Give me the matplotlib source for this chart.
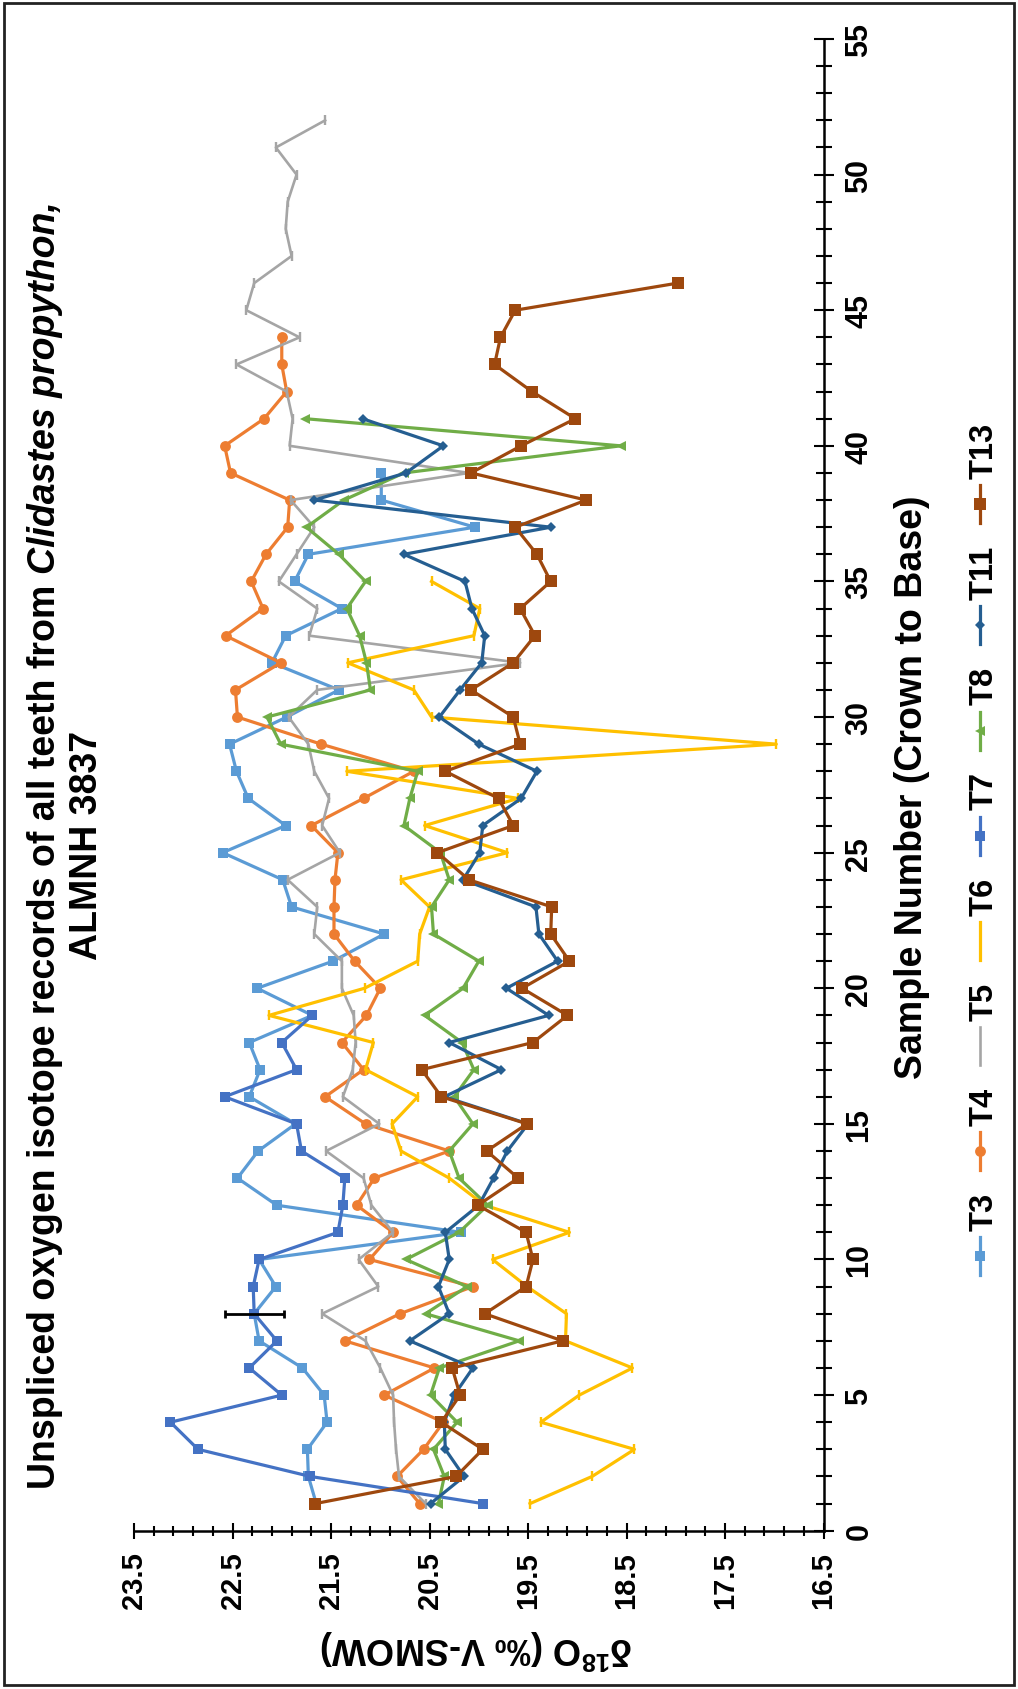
import matplotlib
matplotlib.use("Agg")
import matplotlib.pyplot as plt
import numpy as np
from matplotlib.ticker import FixedLocator, MultipleLocator, FormatStrFormatter
from matplotlib.lines import Line2D
from matplotlib.patches import Rectangle

plt.rcParams['font.family'] = ['Liberation Sans', 'DejaVu Sans']
plt.rcParams['font.weight'] = 'bold'
plt.rcParams['mathtext.fontset'] = 'custom'
plt.rcParams['mathtext.rm'] = 'Liberation Sans:bold'
plt.rcParams['mathtext.bf'] = 'Liberation Sans:bold'
plt.rcParams['mathtext.default'] = 'bf'

# d18O values per sample (sample 1, 2, 3, ...)
T3 = [21.65, 21.73, 21.74, 21.54, 21.57, 21.79, 22.23, 22.28, 22.06, 22.23,
      20.18, 22.05, 22.45, 22.24, 21.86, 22.33, 22.22, 22.33, 21.69, 22.25,
      21.48, 20.96, 21.90, 21.99, 22.60, 21.96, 22.34, 22.46, 22.53, 21.95,
      21.42, 22.10, 21.96, 21.39, 21.87, 21.73, 20.04, 20.99, 20.99]
T4 = [20.60, 20.83, 20.56, 20.36, 20.96, 20.45, 21.36, 20.80, 20.06, 21.11,
      20.87, 21.24, 21.06, 20.30, 21.15, 21.56, 21.17, 21.39, 21.14, 21.00,
      21.26, 21.47, 21.47, 21.46, 21.43, 21.70, 21.17, 20.66, 21.60, 22.45,
      22.47, 22.01, 22.57, 22.19, 22.31, 22.16, 21.94, 21.92, 22.52, 22.58,
      22.18, 21.95, 22.00, 22.00]
T5 = [20.54, 20.81, 20.84, 20.86, 20.87, 21.00, 21.15, 21.59, 21.02, 21.22,
      20.87, 21.09, 21.17, 21.55, 21.01, 21.38, 21.28, 21.25, 21.27, 21.39,
      21.39, 21.67, 21.64, 21.94, 21.41, 21.59, 21.52, 21.67, 21.73, 21.93,
      21.64, 19.58, 21.72, 21.64, 22.03, 21.85, 21.67, 21.91, 20.10, 21.92,
      21.89, 21.95, 22.46, 21.82, 22.36, 22.28, 21.90, 21.96, 21.94, 21.85,
      22.06, 21.56]
T6 = [19.48, 18.85, 18.42, 19.37, 18.98, 18.44, 19.12, 19.11, 19.51, 19.86,
      19.08, 19.94, 20.30, 20.79, 20.88, 20.62, 21.15, 21.07, 22.13, 21.16,
      20.62, 20.60, 20.50, 20.79, 19.71, 20.55, 19.60, 21.34, 16.98, 20.48,
      20.66, 21.33, 20.05, 19.99, 20.48]
T7 = [19.96, 21.71, 22.85, 23.13, 22.00, 22.33, 22.05, 22.28, 22.29, 22.23,
      21.43, 21.38, 21.36, 21.80, 21.85, 22.58, 21.85, 22.00, 21.69]
T8 = [20.41, 20.35, 20.46, 20.22, 20.49, 20.40, 19.59, 20.54, 20.12, 20.74,
      20.20, 19.91, 20.20, 20.30, 20.06, 20.25, 20.05, 20.17, 20.55, 20.16,
      20.00, 20.46, 20.48, 20.30, 20.39, 20.76, 20.70, 20.62, 22.01, 22.15,
      21.10, 21.14, 21.21, 21.34, 21.15, 21.42, 21.75, 21.37, 20.76, 18.56,
      21.76]
T11 = [20.49, 20.15, 20.34, 20.35, 20.25, 20.06, 20.70, 20.30, 20.41, 20.30,
       20.34, 20.00, 19.85, 19.71, 19.50, 20.35, 19.77, 20.30, 19.29, 19.72,
       19.20, 19.39, 19.42, 20.16, 19.99, 19.96, 19.57, 19.41, 20.00, 20.40,
       20.19, 19.97, 19.94, 20.07, 20.14, 20.76, 19.27, 21.67, 20.74, 20.36,
       21.18]
T13 = [21.66, 20.23, 19.96, 20.38, 20.19, 20.27, 19.15, 19.94, 19.52, 19.45,
       19.52, 20.01, 19.60, 19.92, 19.51, 20.38, 20.58, 19.45, 19.10, 19.56,
       19.08, 19.27, 19.26, 20.10, 20.42, 19.65, 19.80, 20.34, 19.58, 19.65,
       20.08, 19.65, 19.43, 19.58, 19.27, 19.41, 19.63, 18.91, 20.08, 19.57,
       19.02, 19.46, 19.84, 19.78, 19.63, 17.98]

# analytical error bar
err_value = [22.28]
err_sample = [8]
err_size = [0.3]

names = ["T3", "T4", "T5", "T6", "T7", "T8", "T11", "T13"]
values = [T3, T4, T5, T6, T7, T8, T11, T13]
colors = ["#5B9BD5", "#ED7D31", "#A5A5A5", "#FFC000", "#4472C4", "#70AD47", "#255E91", "#9E480E"]
markers = ["s", "o", "|", "|", "s", "<", "D", "s"]
msizes = [7.2, 7.8, 6.5, 6.5, 7.6, 7.8, 5.6, 8.2]
lws = [2.3, 2.3, 1.9, 2.3, 2.3, 2.3, 2.3, 2.3]

W, H = 1018, 1690


def fx(px):
    return px / W


def fy(py):
    return 1 - py / H


fig = plt.figure(figsize=(W / 100, H / 100), dpi=100)
fig.add_artist(Rectangle((fx(4), fy(1686)), fx(1010), 1682 / H, transform=fig.transFigure,
                         fill=False, edgecolor="#222222", linewidth=2))

ax = fig.add_axes([fx(134), fy(1531.7), fx(823.6) - fx(134), 1491.7 / H])

for name, vals, c, m, ms, lw in zip(names, values, colors, markers, msizes, lws):
    samples = np.arange(1, len(vals) + 1)
    mew = 1.7 if m == "|" else 0
    ax.plot(vals, samples, color=c, lw=lw, marker=m, markersize=ms,
            markeredgewidth=mew, markeredgecolor=c, markerfacecolor=c)

ax.errorbar(err_value, err_sample, xerr=err_size, fmt="none", ecolor="black",
            elinewidth=2, capsize=3, capthick=2, zorder=5)

ax.set_xlim(23.5, 16.5)
ax.set_ylim(0, 55)
ax.spines["left"].set_visible(False)
ax.spines["top"].set_visible(False)
ax.spines["bottom"].set_linewidth(1.8)
ax.spines["right"].set_linewidth(1.8)

ax.xaxis.set_major_locator(FixedLocator(np.arange(16.5, 23.6, 1.0)))
ax.xaxis.set_minor_locator(FixedLocator(np.arange(16.5, 23.55, 0.2)))
ax.xaxis.set_major_formatter(FormatStrFormatter("%.1f"))
ax.tick_params(axis="x", which="major", direction="inout", length=12, width=1.5,
               labelsize=21, labelrotation=90, pad=9)
ax.tick_params(axis="x", which="minor", direction="inout", length=7, width=1.5)

ax.yaxis.tick_right()
ax.yaxis.set_major_locator(MultipleLocator(5))
ax.yaxis.set_minor_locator(MultipleLocator(1))
ax.tick_params(axis="y", which="major", direction="inout", length=14, width=1.5,
               labelsize=22, labelrotation=90, pad=8)
ax.tick_params(axis="y", which="minor", direction="inout", length=11, width=1.5)
for lab in ax.get_yticklabels():
    lab.set_verticalalignment("center")

# axis titles
fig.text(fx(477), fy(1637), r"δ$^{18}$O (‰ V-SMOW)", rotation=180, rotation_mode="anchor",
         ha="center", va="baseline", fontsize=26, weight="bold")
fig.text(fx(922), fy(787), "Sample Number (Crown to Base)", rotation=90, rotation_mode="anchor",
         ha="center", va="baseline", fontsize=27, weight="bold")

# title, rotated, with italic species name
r = fig.canvas.get_renderer()
ta = fig.text(0, 0, "Unspliced oxygen isotope records of all teeth from", rotation=90,
              rotation_mode="anchor", ha="left", va="baseline", fontsize=27, weight="bold")
tb = fig.text(0, 0, "Clidastes propython,", rotation=90, rotation_mode="anchor",
              ha="left", va="baseline", fontsize=27, weight="bold", style="italic")
len_a = ta.get_window_extent(r).height
len_b = tb.get_window_extent(r).height
space = 0.278 * 27 * 100 / 72
start = (H - 845) - (len_a + space + len_b) / 2
ta.set_position((fx(55), start / H))
tb.set_position((fx(55), (start + len_a + space) / H))
fig.text(fx(97), fy(845), "ALMNH 3837", rotation=90, rotation_mode="anchor",
         ha="center", va="baseline", fontsize=27, weight="bold")

# legend drawn vertically
cy = 1257
for name, c, m, ms, lw in zip(names, colors, markers, msizes, lws):
    fig.add_artist(Line2D([fx(980), fx(980)], [fy(cy + 19), fy(cy - 19)],
                          transform=fig.transFigure, color=c, lw=lw))
    if m != "|":
        fig.add_artist(Line2D([fx(980)], [fy(cy)], transform=fig.transFigure, color=c,
                              marker=m, markersize=ms, markeredgewidth=0))
    t = fig.text(fx(993), fy(cy - 26), name, rotation=90, rotation_mode="anchor",
                 ha="left", va="baseline", fontsize=23.5, weight="bold")
    tl = t.get_window_extent(r).height
    cy = cy - 67 - tl

fig.savefig("out.png", dpi=100)
